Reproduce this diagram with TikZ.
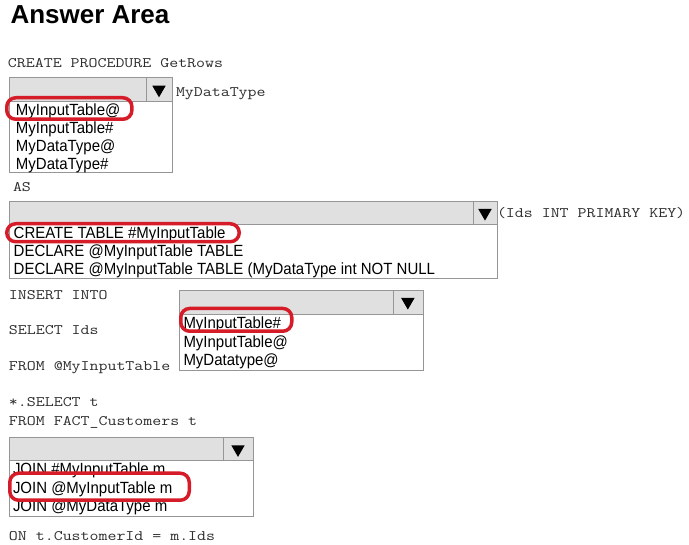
\documentclass[tikz,border=0pt]{standalone}
\usepackage{fontspec}
\setmainfont{Liberation Sans}
\newfontfamily\codefont{Latin Modern Mono}[FakeStretch=1.2]
\newfontfamily\itemfont{Liberation Sans}[FakeStretch=0.925]
\usetikzlibrary{positioning, calc}
\definecolor{colHead}{RGB}{224, 224, 224}
\definecolor{colLine}{RGB}{150, 150, 150}
\definecolor{colPick}{RGB}{214, 28, 40}
\definecolor{colCode}{RGB}{45, 45, 45}

\begin{document}
\begin{tikzpicture}[x=1pt, y=-1pt,
    every node/.style={inner sep=0pt, outer sep=0pt, anchor=base west},
    code/.style={text=colCode, font=\codefont\fontsize{14.5}{16}\selectfont},
    item/.style={font=\itemfont\fontsize{16.2}{18}\selectfont},
    pick/.style={draw=colPick, line width=3.5pt, rounded corners=9pt}]
    \useasboundingbox (0,0) rectangle (689,545);

    % --- Judul ---
    \node[font=\bfseries\fontsize{26}{28}\selectfont] (title) at (10.5, 24) {Answer Area};

    % --- Kotak pilihan (kiri/kanan/atas/bawah header/tombol/bawah daftar) ---
    \foreach \xa/\xb/\ya/\yb/\xc/\yc in {
        9.3/172.3/77.7/101/145.7/172.3,
        9.3/496.7/201/224.3/473.3/278.7,
        179/422.7/290/314/393/370,
        9.3/252.7/437.3/460.7/223.3/516.7} {
        \draw[colLine, fill=white] (\xa, \yb) rectangle (\xb, \yc);
        \draw[colLine, fill=colHead] (\xa, \ya) rectangle (\xb, \yb);
        \draw[colLine] (\xc, \ya) -- (\xc, \yb);
        \fill ({(\xc+\xb)/2-6.7}, \ya+8) -- ({(\xc+\xb)/2+6.7}, \ya+8)
              -- ({(\xc+\xb)/2}, \ya+19.6) -- cycle;
    }

    % --- Kode SQL ---
    \node[code] (proc) at (8, 67.6) {CREATE PROCEDURE GetRows};
    \node[code] (ptype) at (176, 97) {MyDataType};
    \node[code] (as) at (13, 192) {AS};
    \node[code] (pkey) at (497, 217.3) {(Ids INT PRIMARY KEY)};
    \node[code] (insert) at (9, 299.3) {INSERT INTO};
    \node[code] (select) at (9, 334.3) {SELECT Ids};
    \node[code] (from) at (9, 371) {FROM @MyInputTable};
    \node[code] (star) at (9, 407) {*.SELECT t};
    \node[code] (fact) at (9, 425.3) {FROM FACT\_Customers t};
    \node[code] (on) at (9, 541) {ON t.CustomerId = m.Ids};

    % --- Pilihan 1 ---
    \node[item] (optA1) at (16, 115.8) {MyInputTable@};
    \node[item] (optA2) at (16, 133.5) {MyInputTable\#};
    \node[item] (optA3) at (16, 151.8) {MyDataType@};
    \node[item] (optA4) at (16, 169.8) {MyDataType\#};

    % --- Pilihan 2 ---
    \node[item] (optB1) at (13.7, 238.5) {CREATE TABLE \#MyInputTable};
    \node[item] (optB2) at (13.7, 256.5) {DECLARE @MyInputTable TABLE};
    \node[item] (optB3) at (13.7, 274.5) {DECLARE @MyInputTable TABLE (MyDataType int NOT NULL};

    % --- Pilihan 3 ---
    \node[item] (optC1) at (183.5, 328.8) {MyInputTable\#};
    \node[item] (optC2) at (183.5, 347.5) {MyInputTable@};
    \node[item] (optC3) at (183.5, 365.8) {MyDatatype@};

    % --- Pilihan 4 ---
    \node[item] (optD1) at (13, 474.3) {JOIN \#MyInputTable m};
    \node[item] (optD2) at (13, 493.1) {JOIN @MyInputTable m};
    \node[item] (optD3) at (13, 511.8) {JOIN @MyDataType m};

    % --- Tanda jawaban ---
    \draw[pick] (6.75, 97.75) rectangle (131.9, 119.25);
    \draw[pick] (6.75, 223.75) rectangle (239.25, 241.75);
    \draw[pick] (180.75, 308.45) rectangle (291.75, 331.25);
    \draw[pick] (9.75, 473.25) rectangle (189.25, 500.25);
\end{tikzpicture}
\end{document}
